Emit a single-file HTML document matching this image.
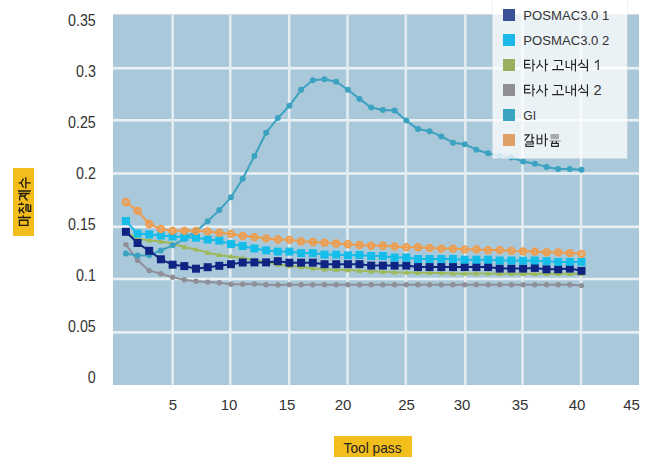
<!DOCTYPE html>
<html><head><meta charset="utf-8"><style>
html,body{margin:0;padding:0;background:#fff;width:655px;height:474px;overflow:hidden}
svg{display:block}
.t{font-family:"Liberation Sans",sans-serif;font-size:15px;fill:#333}
.ty{font-family:"Liberation Sans",sans-serif;font-size:15px;fill:#333}
.t2{font-family:"Liberation Sans",sans-serif;font-size:14.6px;fill:#222}
.tl{font-family:"Liberation Sans",sans-serif;font-size:13.7px;fill:#333}
</style></head><body>
<svg width="655" height="474" viewBox="0 0 655 474">
<rect x="113" y="14" width="526" height="371" fill="#a9c8d9"/>
<rect x="113" y="14" width="526" height="1" fill="#d6dadd"/>
<rect x="113" y="66.90" width="526" height="2.6" fill="#e9f1f5"/>
<rect x="113" y="119.00" width="526" height="2.6" fill="#e9f1f5"/>
<rect x="113" y="172.20" width="526" height="2.6" fill="#e9f1f5"/>
<rect x="113" y="225.50" width="526" height="2.6" fill="#e9f1f5"/>
<rect x="113" y="277.70" width="526" height="2.6" fill="#e9f1f5"/>
<rect x="113" y="331.10" width="526" height="2.6" fill="#e9f1f5"/>
<rect x="171.40" y="15" width="2.6" height="370" fill="#e2ecf1"/>
<rect x="229.00" y="15" width="2.6" height="370" fill="#e2ecf1"/>
<rect x="287.90" y="15" width="2.6" height="370" fill="#e2ecf1"/>
<rect x="346.20" y="15" width="2.6" height="370" fill="#e2ecf1"/>
<rect x="404.50" y="15" width="2.6" height="370" fill="#e2ecf1"/>
<rect x="464.00" y="15" width="2.6" height="370" fill="#e2ecf1"/>
<rect x="521.20" y="15" width="2.6" height="370" fill="#e2ecf1"/>
<rect x="579.70" y="15" width="2.6" height="370" fill="#e2ecf1"/>
<polyline points="125.9,244.6 137.6,260.4 149.2,270.6 160.9,273.7 172.6,277.2 184.3,279.7 196.0,281.2 207.7,282.1 219.3,282.8 231.0,284.3 242.7,284.3 254.4,284.0 266.1,284.7 277.8,285.0 289.4,284.8 301.1,284.8 312.8,284.8 324.5,284.8 336.2,284.8 347.9,284.8 359.5,284.8 371.2,284.8 382.9,284.8 394.6,284.8 406.3,284.8 418.0,284.8 429.6,284.8 441.3,284.8 453.0,284.8 464.7,284.8 476.4,284.8 488.1,284.8 499.7,284.8 511.4,284.8 523.1,284.8 534.8,284.8 546.5,284.8 558.2,284.8 569.8,284.8 581.5,285.6" fill="none" stroke="#8e8f98" stroke-width="2" stroke-linejoin="round"/>
<circle cx="125.9" cy="244.6" r="2.7" fill="#8e8f98"/>
<circle cx="137.6" cy="260.4" r="2.7" fill="#8e8f98"/>
<circle cx="149.2" cy="270.6" r="2.7" fill="#8e8f98"/>
<circle cx="160.9" cy="273.7" r="2.7" fill="#8e8f98"/>
<circle cx="172.6" cy="277.2" r="2.7" fill="#8e8f98"/>
<circle cx="184.3" cy="279.7" r="2.7" fill="#8e8f98"/>
<circle cx="196.0" cy="281.2" r="2.7" fill="#8e8f98"/>
<circle cx="207.7" cy="282.1" r="2.7" fill="#8e8f98"/>
<circle cx="219.3" cy="282.8" r="2.7" fill="#8e8f98"/>
<circle cx="231.0" cy="284.3" r="2.7" fill="#8e8f98"/>
<circle cx="242.7" cy="284.3" r="2.7" fill="#8e8f98"/>
<circle cx="254.4" cy="284" r="2.7" fill="#8e8f98"/>
<circle cx="266.1" cy="284.7" r="2.7" fill="#8e8f98"/>
<circle cx="277.8" cy="285" r="2.7" fill="#8e8f98"/>
<circle cx="289.4" cy="284.8" r="2.7" fill="#8e8f98"/>
<circle cx="301.1" cy="284.8" r="2.7" fill="#8e8f98"/>
<circle cx="312.8" cy="284.8" r="2.7" fill="#8e8f98"/>
<circle cx="324.5" cy="284.8" r="2.7" fill="#8e8f98"/>
<circle cx="336.2" cy="284.8" r="2.7" fill="#8e8f98"/>
<circle cx="347.9" cy="284.8" r="2.7" fill="#8e8f98"/>
<circle cx="359.5" cy="284.8" r="2.7" fill="#8e8f98"/>
<circle cx="371.2" cy="284.8" r="2.7" fill="#8e8f98"/>
<circle cx="382.9" cy="284.8" r="2.7" fill="#8e8f98"/>
<circle cx="394.6" cy="284.8" r="2.7" fill="#8e8f98"/>
<circle cx="406.3" cy="284.8" r="2.7" fill="#8e8f98"/>
<circle cx="418.0" cy="284.8" r="2.7" fill="#8e8f98"/>
<circle cx="429.6" cy="284.8" r="2.7" fill="#8e8f98"/>
<circle cx="441.3" cy="284.8" r="2.7" fill="#8e8f98"/>
<circle cx="453.0" cy="284.8" r="2.7" fill="#8e8f98"/>
<circle cx="464.7" cy="284.8" r="2.7" fill="#8e8f98"/>
<circle cx="476.4" cy="284.8" r="2.7" fill="#8e8f98"/>
<circle cx="488.1" cy="284.8" r="2.7" fill="#8e8f98"/>
<circle cx="499.7" cy="284.8" r="2.7" fill="#8e8f98"/>
<circle cx="511.4" cy="284.8" r="2.7" fill="#8e8f98"/>
<circle cx="523.1" cy="284.8" r="2.7" fill="#8e8f98"/>
<circle cx="534.8" cy="284.8" r="2.7" fill="#8e8f98"/>
<circle cx="546.5" cy="284.8" r="2.7" fill="#8e8f98"/>
<circle cx="558.2" cy="284.8" r="2.7" fill="#8e8f98"/>
<circle cx="569.8" cy="284.8" r="2.7" fill="#8e8f98"/>
<circle cx="581.5" cy="285.6" r="2.7" fill="#8e8f98"/>
<polyline points="125.9,232.0 137.6,239.0 149.2,240.2 160.9,241.5 172.6,243.6 184.3,247.0 196.0,249.4 207.7,252.8 219.3,254.9 231.0,256.4 242.7,258.0 254.4,259.9 266.1,262.0 277.8,264.5 289.4,266.0 301.1,267.0 312.8,268.2 324.5,269.3 336.2,269.8 347.9,270.1 359.5,270.8 371.2,271.3 382.9,271.8 394.6,272.3 406.3,272.5 418.0,272.7 429.6,272.9 441.3,273.0 453.0,273.5 464.7,273.5 476.4,273.6 488.1,273.6 499.7,273.7 511.4,273.7 523.1,273.8 534.8,273.8 546.5,273.8 558.2,273.8 569.8,273.8 581.5,273.8" fill="none" stroke="#9db95a" stroke-width="2" stroke-linejoin="round"/>
<path d="M122.9,234.2L128.9,234.2L125.9,229.0Z" fill="#9db95a"/>
<path d="M134.6,241.2L140.6,241.2L137.6,236.0Z" fill="#9db95a"/>
<path d="M146.2,242.4L152.2,242.4L149.2,237.2Z" fill="#9db95a"/>
<path d="M157.9,243.7L163.9,243.7L160.9,238.5Z" fill="#9db95a"/>
<path d="M169.6,245.8L175.6,245.8L172.6,240.6Z" fill="#9db95a"/>
<path d="M181.3,249.2L187.3,249.2L184.3,244.0Z" fill="#9db95a"/>
<path d="M193.0,251.6L199.0,251.6L196.0,246.4Z" fill="#9db95a"/>
<path d="M204.7,255.0L210.7,255.0L207.7,249.8Z" fill="#9db95a"/>
<path d="M216.3,257.1L222.3,257.1L219.3,251.9Z" fill="#9db95a"/>
<path d="M228.0,258.6L234.0,258.6L231.0,253.4Z" fill="#9db95a"/>
<path d="M239.7,260.2L245.7,260.2L242.7,255.0Z" fill="#9db95a"/>
<path d="M251.4,262.1L257.4,262.1L254.4,256.9Z" fill="#9db95a"/>
<path d="M263.1,264.2L269.1,264.2L266.1,259.0Z" fill="#9db95a"/>
<path d="M274.8,266.7L280.8,266.7L277.8,261.5Z" fill="#9db95a"/>
<path d="M286.4,268.2L292.4,268.2L289.4,263.0Z" fill="#9db95a"/>
<path d="M298.1,269.2L304.1,269.2L301.1,264.0Z" fill="#9db95a"/>
<path d="M309.8,270.4L315.8,270.4L312.8,265.2Z" fill="#9db95a"/>
<path d="M321.5,271.5L327.5,271.5L324.5,266.3Z" fill="#9db95a"/>
<path d="M333.2,272.0L339.2,272.0L336.2,266.8Z" fill="#9db95a"/>
<path d="M344.9,272.3L350.9,272.3L347.9,267.1Z" fill="#9db95a"/>
<path d="M356.5,273.0L362.5,273.0L359.5,267.8Z" fill="#9db95a"/>
<path d="M368.2,273.5L374.2,273.5L371.2,268.3Z" fill="#9db95a"/>
<path d="M379.9,274.0L385.9,274.0L382.9,268.8Z" fill="#9db95a"/>
<path d="M391.6,274.5L397.6,274.5L394.6,269.3Z" fill="#9db95a"/>
<path d="M403.3,274.7L409.3,274.7L406.3,269.5Z" fill="#9db95a"/>
<path d="M415.0,274.9L421.0,274.9L418.0,269.7Z" fill="#9db95a"/>
<path d="M426.6,275.1L432.6,275.1L429.6,269.9Z" fill="#9db95a"/>
<path d="M438.3,275.2L444.3,275.2L441.3,270.0Z" fill="#9db95a"/>
<path d="M450.0,275.7L456.0,275.7L453.0,270.5Z" fill="#9db95a"/>
<path d="M461.7,275.7L467.7,275.7L464.7,270.5Z" fill="#9db95a"/>
<path d="M473.4,275.8L479.4,275.8L476.4,270.6Z" fill="#9db95a"/>
<path d="M485.1,275.8L491.1,275.8L488.1,270.6Z" fill="#9db95a"/>
<path d="M496.7,275.9L502.7,275.9L499.7,270.7Z" fill="#9db95a"/>
<path d="M508.4,275.9L514.4,275.9L511.4,270.7Z" fill="#9db95a"/>
<path d="M520.1,276.0L526.1,276.0L523.1,270.8Z" fill="#9db95a"/>
<path d="M531.8,276.0L537.8,276.0L534.8,270.8Z" fill="#9db95a"/>
<path d="M543.5,276.0L549.5,276.0L546.5,270.8Z" fill="#9db95a"/>
<path d="M555.2,276.0L561.2,276.0L558.2,270.8Z" fill="#9db95a"/>
<path d="M566.8,276.0L572.8,276.0L569.8,270.8Z" fill="#9db95a"/>
<path d="M578.5,276.0L584.5,276.0L581.5,270.8Z" fill="#9db95a"/>
<polyline points="125.9,253.6 137.6,255.4 149.2,255.2 160.9,250.5 172.6,245.3 184.3,239.1 196.0,231.2 207.7,221.3 219.3,210.1 231.0,197.3 242.7,178.8 254.4,156.0 266.1,132.7 277.8,118.1 289.4,105.8 301.1,89.8 312.8,80.2 324.5,79.2 336.2,81.7 347.9,89.8 359.5,98.9 371.2,107.6 382.9,110.1 394.6,110.5 406.3,120.6 418.0,129.1 429.6,131.2 441.3,136.4 453.0,142.7 464.7,144.2 476.4,149.7 488.1,153.2 499.7,156.0 511.4,157.5 523.1,161.6 534.8,163.8 546.5,166.9 558.2,169.0 569.8,169.0 581.5,169.7" fill="none" stroke="#3ba3c1" stroke-width="2" stroke-linejoin="round"/>
<circle cx="125.9" cy="253.6" r="3" fill="#3ba3c1"/>
<circle cx="137.6" cy="255.4" r="3" fill="#3ba3c1"/>
<circle cx="149.2" cy="255.2" r="3" fill="#3ba3c1"/>
<circle cx="160.9" cy="250.5" r="3" fill="#3ba3c1"/>
<circle cx="172.6" cy="245.3" r="3" fill="#3ba3c1"/>
<circle cx="184.3" cy="239.1" r="3" fill="#3ba3c1"/>
<circle cx="196.0" cy="231.2" r="3" fill="#3ba3c1"/>
<circle cx="207.7" cy="221.3" r="3" fill="#3ba3c1"/>
<circle cx="219.3" cy="210.1" r="3" fill="#3ba3c1"/>
<circle cx="231.0" cy="197.3" r="3" fill="#3ba3c1"/>
<circle cx="242.7" cy="178.8" r="3" fill="#3ba3c1"/>
<circle cx="254.4" cy="156" r="3" fill="#3ba3c1"/>
<circle cx="266.1" cy="132.7" r="3" fill="#3ba3c1"/>
<circle cx="277.8" cy="118.1" r="3" fill="#3ba3c1"/>
<circle cx="289.4" cy="105.8" r="3" fill="#3ba3c1"/>
<circle cx="301.1" cy="89.8" r="3" fill="#3ba3c1"/>
<circle cx="312.8" cy="80.2" r="3" fill="#3ba3c1"/>
<circle cx="324.5" cy="79.2" r="3" fill="#3ba3c1"/>
<circle cx="336.2" cy="81.7" r="3" fill="#3ba3c1"/>
<circle cx="347.9" cy="89.8" r="3" fill="#3ba3c1"/>
<circle cx="359.5" cy="98.9" r="3" fill="#3ba3c1"/>
<circle cx="371.2" cy="107.6" r="3" fill="#3ba3c1"/>
<circle cx="382.9" cy="110.1" r="3" fill="#3ba3c1"/>
<circle cx="394.6" cy="110.5" r="3" fill="#3ba3c1"/>
<circle cx="406.3" cy="120.6" r="3" fill="#3ba3c1"/>
<circle cx="418.0" cy="129.1" r="3" fill="#3ba3c1"/>
<circle cx="429.6" cy="131.2" r="3" fill="#3ba3c1"/>
<circle cx="441.3" cy="136.4" r="3" fill="#3ba3c1"/>
<circle cx="453.0" cy="142.7" r="3" fill="#3ba3c1"/>
<circle cx="464.7" cy="144.2" r="3" fill="#3ba3c1"/>
<circle cx="476.4" cy="149.7" r="3" fill="#3ba3c1"/>
<circle cx="488.1" cy="153.2" r="3" fill="#3ba3c1"/>
<circle cx="499.7" cy="156" r="3" fill="#3ba3c1"/>
<circle cx="511.4" cy="157.5" r="3" fill="#3ba3c1"/>
<circle cx="523.1" cy="161.6" r="3" fill="#3ba3c1"/>
<circle cx="534.8" cy="163.8" r="3" fill="#3ba3c1"/>
<circle cx="546.5" cy="166.9" r="3" fill="#3ba3c1"/>
<circle cx="558.2" cy="169" r="3" fill="#3ba3c1"/>
<circle cx="569.8" cy="169" r="3" fill="#3ba3c1"/>
<circle cx="581.5" cy="169.7" r="3" fill="#3ba3c1"/>
<polyline points="125.9,231.8 137.6,243.0 149.2,250.8 160.9,259.3 172.6,264.7 184.3,266.1 196.0,268.7 207.7,267.2 219.3,265.8 231.0,264.2 242.7,262.5 254.4,262.4 266.1,262.4 277.8,261.2 289.4,262.7 301.1,262.7 312.8,262.7 324.5,264.2 336.2,264.2 347.9,264.2 359.5,264.2 371.2,265.6 382.9,265.6 394.6,265.6 406.3,265.6 418.0,267.1 429.6,267.1 441.3,267.1 453.0,267.1 464.7,267.1 476.4,267.1 488.1,267.1 499.7,268.6 511.4,268.6 523.1,268.6 534.8,267.9 546.5,269.3 558.2,269.3 569.8,268.6 581.5,270.8" fill="none" stroke="#0f2482" stroke-width="2" stroke-linejoin="round"/>
<rect x="121.9" y="227.8" width="8" height="8" fill="#0f2482"/>
<rect x="133.6" y="239.0" width="8" height="8" fill="#0f2482"/>
<rect x="145.2" y="246.8" width="8" height="8" fill="#0f2482"/>
<rect x="156.9" y="255.3" width="8" height="8" fill="#0f2482"/>
<rect x="168.6" y="260.7" width="8" height="8" fill="#0f2482"/>
<rect x="180.3" y="262.1" width="8" height="8" fill="#0f2482"/>
<rect x="192.0" y="264.7" width="8" height="8" fill="#0f2482"/>
<rect x="203.7" y="263.2" width="8" height="8" fill="#0f2482"/>
<rect x="215.3" y="261.8" width="8" height="8" fill="#0f2482"/>
<rect x="227.0" y="260.2" width="8" height="8" fill="#0f2482"/>
<rect x="238.7" y="258.5" width="8" height="8" fill="#0f2482"/>
<rect x="250.4" y="258.4" width="8" height="8" fill="#0f2482"/>
<rect x="262.1" y="258.4" width="8" height="8" fill="#0f2482"/>
<rect x="273.8" y="257.2" width="8" height="8" fill="#0f2482"/>
<rect x="285.4" y="258.7" width="8" height="8" fill="#0f2482"/>
<rect x="297.1" y="258.7" width="8" height="8" fill="#0f2482"/>
<rect x="308.8" y="258.7" width="8" height="8" fill="#0f2482"/>
<rect x="320.5" y="260.2" width="8" height="8" fill="#0f2482"/>
<rect x="332.2" y="260.2" width="8" height="8" fill="#0f2482"/>
<rect x="343.9" y="260.2" width="8" height="8" fill="#0f2482"/>
<rect x="355.5" y="260.2" width="8" height="8" fill="#0f2482"/>
<rect x="367.2" y="261.6" width="8" height="8" fill="#0f2482"/>
<rect x="378.9" y="261.6" width="8" height="8" fill="#0f2482"/>
<rect x="390.6" y="261.6" width="8" height="8" fill="#0f2482"/>
<rect x="402.3" y="261.6" width="8" height="8" fill="#0f2482"/>
<rect x="414.0" y="263.1" width="8" height="8" fill="#0f2482"/>
<rect x="425.6" y="263.1" width="8" height="8" fill="#0f2482"/>
<rect x="437.3" y="263.1" width="8" height="8" fill="#0f2482"/>
<rect x="449.0" y="263.1" width="8" height="8" fill="#0f2482"/>
<rect x="460.7" y="263.1" width="8" height="8" fill="#0f2482"/>
<rect x="472.4" y="263.1" width="8" height="8" fill="#0f2482"/>
<rect x="484.1" y="263.1" width="8" height="8" fill="#0f2482"/>
<rect x="495.7" y="264.6" width="8" height="8" fill="#0f2482"/>
<rect x="507.4" y="264.6" width="8" height="8" fill="#0f2482"/>
<rect x="519.1" y="264.6" width="8" height="8" fill="#0f2482"/>
<rect x="530.8" y="263.9" width="8" height="8" fill="#0f2482"/>
<rect x="542.5" y="265.3" width="8" height="8" fill="#0f2482"/>
<rect x="554.2" y="265.3" width="8" height="8" fill="#0f2482"/>
<rect x="565.8" y="264.6" width="8" height="8" fill="#0f2482"/>
<rect x="577.5" y="266.8" width="8" height="8" fill="#0f2482"/>
<polyline points="125.9,221.0 137.6,233.6 149.2,234.4 160.9,235.5 172.6,236.6 184.3,237.1 196.0,237.7 207.7,239.6 219.3,240.6 231.0,244.1 242.7,246.0 254.4,248.5 266.1,250.4 277.8,251.6 289.4,251.6 301.1,253.1 312.8,253.1 324.5,254.6 336.2,254.6 347.9,255.3 359.5,255.0 371.2,256.0 382.9,256.0 394.6,257.5 406.3,257.5 418.0,259.0 429.6,259.0 441.3,259.0 453.0,259.0 464.7,259.7 476.4,259.7 488.1,259.7 499.7,260.5 511.4,260.5 523.1,260.8 534.8,260.5 546.5,261.2 558.2,261.9 569.8,261.9 581.5,261.9" fill="none" stroke="#14bdea" stroke-width="2" stroke-linejoin="round"/>
<rect x="121.9" y="217.0" width="8" height="8" fill="#14bdea"/>
<rect x="133.6" y="229.6" width="8" height="8" fill="#14bdea"/>
<rect x="145.2" y="230.4" width="8" height="8" fill="#14bdea"/>
<rect x="156.9" y="231.5" width="8" height="8" fill="#14bdea"/>
<rect x="168.6" y="232.6" width="8" height="8" fill="#14bdea"/>
<rect x="180.3" y="233.1" width="8" height="8" fill="#14bdea"/>
<rect x="192.0" y="233.7" width="8" height="8" fill="#14bdea"/>
<rect x="203.7" y="235.6" width="8" height="8" fill="#14bdea"/>
<rect x="215.3" y="236.6" width="8" height="8" fill="#14bdea"/>
<rect x="227.0" y="240.1" width="8" height="8" fill="#14bdea"/>
<rect x="238.7" y="242.0" width="8" height="8" fill="#14bdea"/>
<rect x="250.4" y="244.5" width="8" height="8" fill="#14bdea"/>
<rect x="262.1" y="246.4" width="8" height="8" fill="#14bdea"/>
<rect x="273.8" y="247.6" width="8" height="8" fill="#14bdea"/>
<rect x="285.4" y="247.6" width="8" height="8" fill="#14bdea"/>
<rect x="297.1" y="249.1" width="8" height="8" fill="#14bdea"/>
<rect x="308.8" y="249.1" width="8" height="8" fill="#14bdea"/>
<rect x="320.5" y="250.6" width="8" height="8" fill="#14bdea"/>
<rect x="332.2" y="250.6" width="8" height="8" fill="#14bdea"/>
<rect x="343.9" y="251.3" width="8" height="8" fill="#14bdea"/>
<rect x="355.5" y="251.0" width="8" height="8" fill="#14bdea"/>
<rect x="367.2" y="252.0" width="8" height="8" fill="#14bdea"/>
<rect x="378.9" y="252.0" width="8" height="8" fill="#14bdea"/>
<rect x="390.6" y="253.5" width="8" height="8" fill="#14bdea"/>
<rect x="402.3" y="253.5" width="8" height="8" fill="#14bdea"/>
<rect x="414.0" y="255.0" width="8" height="8" fill="#14bdea"/>
<rect x="425.6" y="255.0" width="8" height="8" fill="#14bdea"/>
<rect x="437.3" y="255.0" width="8" height="8" fill="#14bdea"/>
<rect x="449.0" y="255.0" width="8" height="8" fill="#14bdea"/>
<rect x="460.7" y="255.7" width="8" height="8" fill="#14bdea"/>
<rect x="472.4" y="255.7" width="8" height="8" fill="#14bdea"/>
<rect x="484.1" y="255.7" width="8" height="8" fill="#14bdea"/>
<rect x="495.7" y="256.5" width="8" height="8" fill="#14bdea"/>
<rect x="507.4" y="256.5" width="8" height="8" fill="#14bdea"/>
<rect x="519.1" y="256.8" width="8" height="8" fill="#14bdea"/>
<rect x="530.8" y="256.5" width="8" height="8" fill="#14bdea"/>
<rect x="542.5" y="257.2" width="8" height="8" fill="#14bdea"/>
<rect x="554.2" y="257.9" width="8" height="8" fill="#14bdea"/>
<rect x="565.8" y="257.9" width="8" height="8" fill="#14bdea"/>
<rect x="577.5" y="257.9" width="8" height="8" fill="#14bdea"/>
<circle cx="125.9" cy="202" r="3.1" fill="#ef9d4d" fill-opacity="0.35" stroke="#ef9d4d" stroke-width="2.1"/>
<circle cx="137.6" cy="210.8" r="3.1" fill="#ef9d4d" fill-opacity="0.35" stroke="#ef9d4d" stroke-width="2.1"/>
<circle cx="149.2" cy="224" r="3.1" fill="#ef9d4d" fill-opacity="0.35" stroke="#ef9d4d" stroke-width="2.1"/>
<circle cx="160.9" cy="229" r="3.1" fill="#ef9d4d" fill-opacity="0.35" stroke="#ef9d4d" stroke-width="2.1"/>
<circle cx="172.6" cy="230.8" r="3.1" fill="#ef9d4d" fill-opacity="0.35" stroke="#ef9d4d" stroke-width="2.1"/>
<circle cx="184.3" cy="230.8" r="3.1" fill="#ef9d4d" fill-opacity="0.35" stroke="#ef9d4d" stroke-width="2.1"/>
<circle cx="196.0" cy="230.8" r="3.1" fill="#ef9d4d" fill-opacity="0.35" stroke="#ef9d4d" stroke-width="2.1"/>
<circle cx="207.7" cy="231.4" r="3.1" fill="#ef9d4d" fill-opacity="0.35" stroke="#ef9d4d" stroke-width="2.1"/>
<circle cx="219.3" cy="232.7" r="3.1" fill="#ef9d4d" fill-opacity="0.35" stroke="#ef9d4d" stroke-width="2.1"/>
<circle cx="231.0" cy="233.9" r="3.1" fill="#ef9d4d" fill-opacity="0.35" stroke="#ef9d4d" stroke-width="2.1"/>
<circle cx="242.7" cy="235.8" r="3.1" fill="#ef9d4d" fill-opacity="0.35" stroke="#ef9d4d" stroke-width="2.1"/>
<circle cx="254.4" cy="237.1" r="3.1" fill="#ef9d4d" fill-opacity="0.35" stroke="#ef9d4d" stroke-width="2.1"/>
<circle cx="266.1" cy="238.4" r="3.1" fill="#ef9d4d" fill-opacity="0.35" stroke="#ef9d4d" stroke-width="2.1"/>
<circle cx="277.8" cy="239.5" r="3.1" fill="#ef9d4d" fill-opacity="0.35" stroke="#ef9d4d" stroke-width="2.1"/>
<circle cx="289.4" cy="239.8" r="3.1" fill="#ef9d4d" fill-opacity="0.35" stroke="#ef9d4d" stroke-width="2.1"/>
<circle cx="301.1" cy="241.3" r="3.1" fill="#ef9d4d" fill-opacity="0.35" stroke="#ef9d4d" stroke-width="2.1"/>
<circle cx="312.8" cy="242" r="3.1" fill="#ef9d4d" fill-opacity="0.35" stroke="#ef9d4d" stroke-width="2.1"/>
<circle cx="324.5" cy="242.7" r="3.1" fill="#ef9d4d" fill-opacity="0.35" stroke="#ef9d4d" stroke-width="2.1"/>
<circle cx="336.2" cy="243.5" r="3.1" fill="#ef9d4d" fill-opacity="0.35" stroke="#ef9d4d" stroke-width="2.1"/>
<circle cx="347.9" cy="244.2" r="3.1" fill="#ef9d4d" fill-opacity="0.35" stroke="#ef9d4d" stroke-width="2.1"/>
<circle cx="359.5" cy="245" r="3.1" fill="#ef9d4d" fill-opacity="0.35" stroke="#ef9d4d" stroke-width="2.1"/>
<circle cx="371.2" cy="245.7" r="3.1" fill="#ef9d4d" fill-opacity="0.35" stroke="#ef9d4d" stroke-width="2.1"/>
<circle cx="382.9" cy="245.7" r="3.1" fill="#ef9d4d" fill-opacity="0.35" stroke="#ef9d4d" stroke-width="2.1"/>
<circle cx="394.6" cy="246.4" r="3.1" fill="#ef9d4d" fill-opacity="0.35" stroke="#ef9d4d" stroke-width="2.1"/>
<circle cx="406.3" cy="247.2" r="3.1" fill="#ef9d4d" fill-opacity="0.35" stroke="#ef9d4d" stroke-width="2.1"/>
<circle cx="418.0" cy="247.2" r="3.1" fill="#ef9d4d" fill-opacity="0.35" stroke="#ef9d4d" stroke-width="2.1"/>
<circle cx="429.6" cy="247.9" r="3.1" fill="#ef9d4d" fill-opacity="0.35" stroke="#ef9d4d" stroke-width="2.1"/>
<circle cx="441.3" cy="248.6" r="3.1" fill="#ef9d4d" fill-opacity="0.35" stroke="#ef9d4d" stroke-width="2.1"/>
<circle cx="453.0" cy="248.6" r="3.1" fill="#ef9d4d" fill-opacity="0.35" stroke="#ef9d4d" stroke-width="2.1"/>
<circle cx="464.7" cy="249.4" r="3.1" fill="#ef9d4d" fill-opacity="0.35" stroke="#ef9d4d" stroke-width="2.1"/>
<circle cx="476.4" cy="249.4" r="3.1" fill="#ef9d4d" fill-opacity="0.35" stroke="#ef9d4d" stroke-width="2.1"/>
<circle cx="488.1" cy="250.1" r="3.1" fill="#ef9d4d" fill-opacity="0.35" stroke="#ef9d4d" stroke-width="2.1"/>
<circle cx="499.7" cy="250.1" r="3.1" fill="#ef9d4d" fill-opacity="0.35" stroke="#ef9d4d" stroke-width="2.1"/>
<circle cx="511.4" cy="250.9" r="3.1" fill="#ef9d4d" fill-opacity="0.35" stroke="#ef9d4d" stroke-width="2.1"/>
<circle cx="523.1" cy="251.3" r="3.1" fill="#ef9d4d" fill-opacity="0.35" stroke="#ef9d4d" stroke-width="2.1"/>
<circle cx="534.8" cy="251.6" r="3.1" fill="#ef9d4d" fill-opacity="0.35" stroke="#ef9d4d" stroke-width="2.1"/>
<circle cx="546.5" cy="252.3" r="3.1" fill="#ef9d4d" fill-opacity="0.35" stroke="#ef9d4d" stroke-width="2.1"/>
<circle cx="558.2" cy="252.3" r="3.1" fill="#ef9d4d" fill-opacity="0.35" stroke="#ef9d4d" stroke-width="2.1"/>
<circle cx="569.8" cy="253.1" r="3.1" fill="#ef9d4d" fill-opacity="0.35" stroke="#ef9d4d" stroke-width="2.1"/>
<circle cx="581.5" cy="253.8" r="3.1" fill="#ef9d4d" fill-opacity="0.35" stroke="#ef9d4d" stroke-width="2.1"/>
<polyline points="125.9,202.0 137.6,210.8 149.2,224.0 160.9,229.0 172.6,230.8 184.3,230.8 196.0,230.8 207.7,231.4 219.3,232.7 231.0,233.9 242.7,235.8 254.4,237.1 266.1,238.4 277.8,239.5 289.4,239.8 301.1,241.3 312.8,242.0 324.5,242.7 336.2,243.5 347.9,244.2 359.5,245.0 371.2,245.7 382.9,245.7 394.6,246.4 406.3,247.2 418.0,247.2 429.6,247.9 441.3,248.6 453.0,248.6 464.7,249.4 476.4,249.4 488.1,250.1 499.7,250.1 511.4,250.9 523.1,251.3 534.8,251.6 546.5,252.3 558.2,252.3 569.8,253.1 581.5,253.8" fill="none" stroke="#ef9d4d" stroke-width="2" stroke-linejoin="round"/>
<rect x="492.3" y="-1" width="135.2" height="159.7" fill="#ffffff" fill-opacity="0.76" stroke="#000" stroke-opacity="0.05" stroke-width="1"/>
<rect x="503" y="9" width="12" height="12" fill="#3a5199"/>
<text x="523.3" y="20.3" class="tl" textLength="86" lengthAdjust="spacingAndGlyphs">POSMAC3.0 1</text>
<rect x="503" y="34" width="12" height="12" fill="#19b9e8"/>
<text x="523.3" y="45.3" class="tl" textLength="86" lengthAdjust="spacingAndGlyphs">POSMAC3.0 2</text>
<rect x="503" y="59" width="12" height="12" fill="#9aaf5e"/>
<rect x="503" y="84" width="12" height="12" fill="#8e8e94"/>
<rect x="503" y="109" width="12" height="12" fill="#3aa3c0"/>
<text x="523.3" y="120.3" class="tl" textLength="12.8" lengthAdjust="spacingAndGlyphs">GI</text>
<rect x="503" y="134" width="12" height="12" fill="#e0a064"/>
<text transform="translate(95.8,26.0) scale(0.95,1.04)" x="0" y="0" class="ty" text-anchor="end">0.35</text>
<text transform="translate(95.8,77.0) scale(0.95,1.04)" x="0" y="0" class="ty" text-anchor="end">0.3</text>
<text transform="translate(95.8,128.0) scale(0.95,1.04)" x="0" y="0" class="ty" text-anchor="end">0.25</text>
<text transform="translate(95.8,179.0) scale(0.95,1.04)" x="0" y="0" class="ty" text-anchor="end">0.2</text>
<text transform="translate(95.8,230.0) scale(0.95,1.04)" x="0" y="0" class="ty" text-anchor="end">0.15</text>
<text transform="translate(95.8,281.0) scale(0.95,1.04)" x="0" y="0" class="ty" text-anchor="end">0.1</text>
<text transform="translate(95.8,332.0) scale(0.95,1.04)" x="0" y="0" class="ty" text-anchor="end">0.05</text>
<text transform="translate(95.8,383.0) scale(0.95,1.04)" x="0" y="0" class="ty" text-anchor="end">0</text>
<text x="173" y="409.8" class="t" text-anchor="middle">5</text>
<text x="229" y="409.8" class="t" text-anchor="middle">10</text>
<text x="287" y="409.8" class="t" text-anchor="middle">15</text>
<text x="343" y="409.8" class="t" text-anchor="middle">20</text>
<text x="406.5" y="409.8" class="t" text-anchor="middle">25</text>
<text x="462" y="409.8" class="t" text-anchor="middle">30</text>
<text x="520" y="409.8" class="t" text-anchor="middle">35</text>
<text x="577" y="409.8" class="t" text-anchor="middle">40</text>
<text x="631.5" y="409.8" class="t" text-anchor="middle">45</text>
<rect x="13" y="168" width="21" height="68" fill="#f3be1b"/>
<rect x="334" y="436" width="78" height="21" fill="#f3be1b"/>
<text x="343.6" y="452.5" class="t2" textLength="58" lengthAdjust="spacingAndGlyphs">Tool pass</text>
<path transform="translate(0,0)" d="M530.1,60.3H524.6V67.8H530.8M524.6,64.3H529.9 M532.9,59.2V71.5M532.9,64.3H535.1 M539.7,59.9V64.2M536.3,68.4L539.7,64.2L543,67.7 M545.5,59V71.6M545.5,64.3H548 M553.7,60.5H561.6V65.2M557.3,65.1V69.5M552.1,69.6H564 M566.2,60.8V67.5H570.4M571.7,60.2V70.6M571.7,64.3H575.2M575.4,59V71.6 M581.5,59.6V62.8M578.1,65.8L581.5,62.8L584.8,65.6M580.2,67.4H587.4M587.4,59.2V71.6" fill="none" stroke="#262626" stroke-width="1.15" stroke-linecap="butt" stroke-linejoin="miter"/>
<path transform="translate(0,25)" d="M530.1,60.3H524.6V67.8H530.8M524.6,64.3H529.9 M532.9,59.2V71.5M532.9,64.3H535.1 M539.7,59.9V64.2M536.3,68.4L539.7,64.2L543,67.7 M545.5,59V71.6M545.5,64.3H548 M553.7,60.5H561.6V65.2M557.3,65.1V69.5M552.1,69.6H564 M566.2,60.8V67.5H570.4M571.7,60.2V70.6M571.7,64.3H575.2M575.4,59V71.6 M581.5,59.6V62.8M578.1,65.8L581.5,62.8L584.8,65.6M580.2,67.4H587.4M587.4,59.2V71.6" fill="none" stroke="#262626" stroke-width="1.15" stroke-linecap="butt" stroke-linejoin="miter"/>
<path d="M595,62.8L598.2,60.4V70.1" fill="none" stroke="#262626" stroke-width="1.15" stroke-linecap="butt" stroke-linejoin="miter"/>
<text x="593.6" y="94.5" class="tl" style="font-size:14.6px">2</text>
<path d="M524.4,134.8H529.3L524.6,140.6M532,133.8V141.9M532,137.6H534.2M525.9,141.9H533.2V144H525.9V146.4H533.9M537.2,134.5V143.7H541.8V134.5M537.2,138.9H541.8M545.4,133.6V146.5M545.4,139.1H548" fill="none" stroke="#262626" stroke-width="1.15" stroke-linecap="butt" stroke-linejoin="miter"/>
<rect x="550.4" y="134" width="8.5" height="5.1" fill="#a9a9ab"/>
<rect x="549.2" y="140.2" width="11.6" height="1.4" fill="#ababad"/>
<path d="M552.3,141V143M556.3,141V143M551.6,143.4H558.3V146.3H551.6Z" fill="none" stroke="#262626" stroke-width="1.15" stroke-linecap="butt" stroke-linejoin="miter"/>
<path d="M18.6,182.9H21.1M23.5,178.6L21.1,182.9L23.5,187.5M25.8,177.2V188.6M25.8,182.8H30.8" fill="none" stroke="#1e1a10" stroke-width="1.35"/>
<path d="M18,191H30.8M18.4,193.5H29.8M20.9,193.5V196M25.6,193.5V196M19.7,196H25.6M19.7,196V200.5M24.1,197.1L27.5,200.5" fill="none" stroke="#1e1a10" stroke-width="1.35"/>
<path d="M21.5,202.3V204.4M18.2,204.4H23.9M19.6,207.2V213.5M23.7,207.4L21.6,210.3L24.3,213.3M18.2,210.3H21.6M26,211.2V204.6H28.1V211.2H30.6V204.4" fill="none" stroke="#1e1a10" stroke-width="1.35"/>
<path d="M18,217.5H30.9M23.2,215.3V217.5M19.4,220.2H27.9V225.4H19.4Z" fill="none" stroke="#1e1a10" stroke-width="1.35"/>
</svg>
</body></html>
